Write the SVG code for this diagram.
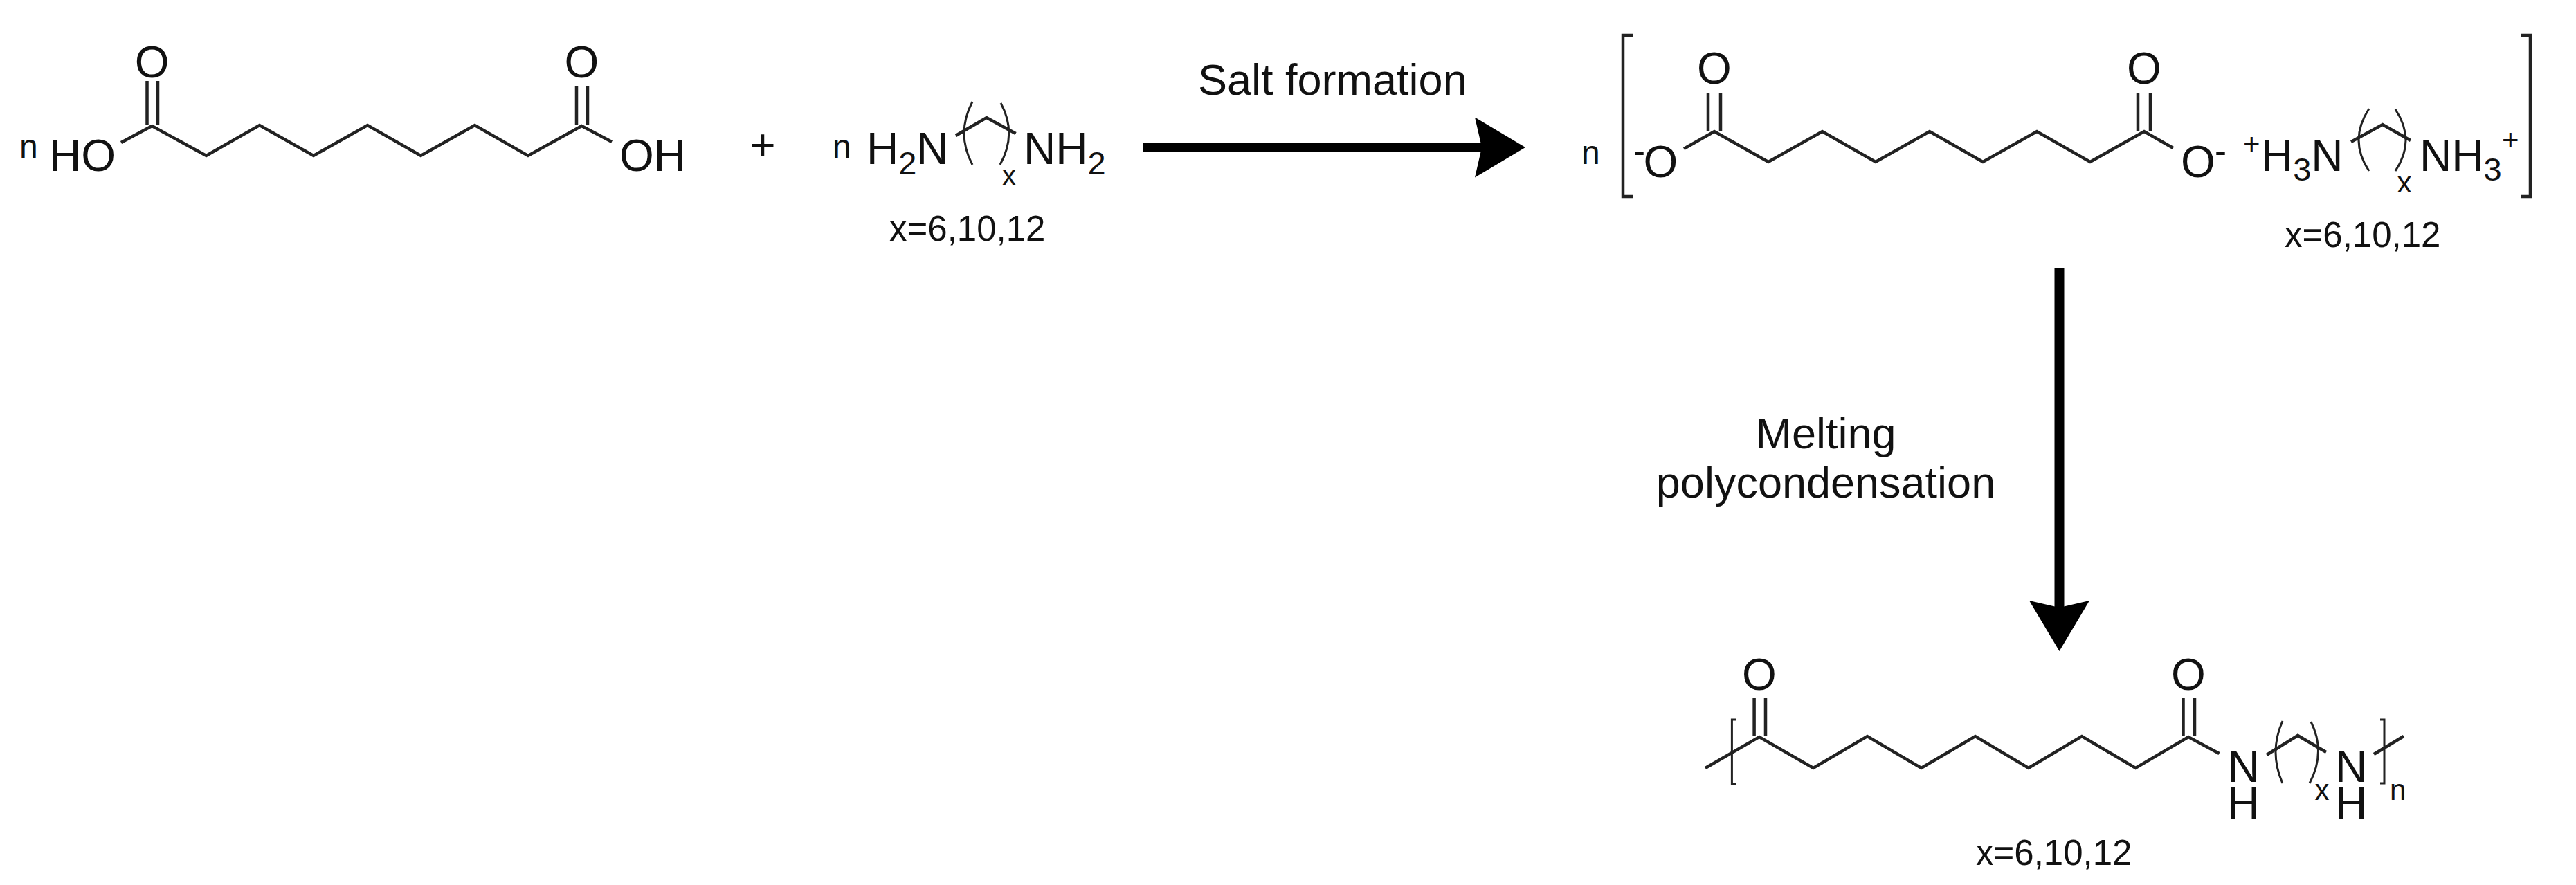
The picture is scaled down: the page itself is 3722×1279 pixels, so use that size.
<svg xmlns="http://www.w3.org/2000/svg" width="3722" height="1279" viewBox="0 0 3722 1279">
<style>
text{font-family:"Liberation Sans",Arial,sans-serif;fill:#111}
.a{font-size:64px}
.l{font-size:63px}
.f{font-size:51px}
.n{font-size:48px}
.x{font-size:42px}
.s{font-size:47px}
.m{text-anchor:middle}
.b{fill:none;stroke:#222;stroke-width:4.5;stroke-linejoin:miter}
.p{fill:none;stroke:#222;stroke-width:3}
.w{stroke:#000;stroke-width:14;fill:none}
</style>
<defs>
<marker id="head" markerUnits="userSpaceOnUse" markerWidth="74" markerHeight="88" viewBox="0 0 74 88" refX="10" refY="43.5" orient="auto"><path d="M0,0L73,43.5L0,87L10,43.5Z" fill="#000"/></marker>
</defs>
<rect width="3722" height="1279" fill="#fff"/>
<g id="connectors">
<line class="w" x1="1651" y1="213" x2="2141" y2="213" marker-end="url(#head)"/>
<line class="w" x1="2975.5" y1="388" x2="2975.5" y2="878" marker-end="url(#head)"/>
</g>
<g id="diacid">
<text class="n" x="28" y="228">n</text>
<text class="a" x="71" y="247">HO</text>
<polyline class="b" points="175,206 219.6,182 298,225 375,181 453,225 531,181 608,225 686,181 763,225 840.4,182 884,205"/>
<path class="b" d="M212.5,180V117M228,180V117M833,180V125M849,180V125"/>
<text class="a m" x="219.6" y="112">O</text>
<text class="a m" x="840.4" y="112">O</text>
<text class="a" x="895" y="247">OH</text>
</g>
<text id="plus" class="a m" x="1102" y="232">+</text>
<g id="diamine">
<text class="n" x="1203" y="228">n</text>
<text class="a" x="1252" y="237">H<tspan class="s" dy="15">2</tspan><tspan dy="-15">N</tspan></text>
<polyline class="b" points="1381,196 1425.5,170 1467.6,193"/>
<path class="p" d="M1405,147Q1381,193 1405,238M1446,149Q1470,193 1445,238"/>
<text class="x m" x="1458" y="268">x</text>
<text class="a" x="1479" y="237">NH<tspan class="s" dy="15">2</tspan></text>
<text class="f" x="1285" y="348">x=6,10,12</text>
</g>
<text id="salt-label" class="l" x="1731" y="137">Salt formation</text>
<g id="salt">
<text class="n" x="2285" y="237">n</text>
<path class="b" d="M2359,51H2345V284H2359M3642,51H3656V284H3642"/>
<text class="f" x="2360" y="236">-</text>
<text class="a m" x="2399.5" y="256">O</text>
<polyline class="b" points="2433,215 2477,190 2555,234 2633,190 2710,234 2788,190 2865,234 2943,190 3020,234 3098,190 3140,214"/>
<path class="b" d="M2468,189V135M2486,189V135M3089,189V135M3107,189V135"/>
<text class="a m" x="2477" y="121">O</text>
<text class="a m" x="3098" y="121">O</text>
<text class="a m" x="3176" y="256">O</text>
<text class="f" x="3200" y="236">-</text>
<text class="x" x="3241" y="223">+</text>
<text class="a" x="3267" y="247">H<tspan class="s" dy="14">3</tspan><tspan dy="-14">N</tspan></text>
<polyline class="b" points="3397,205 3442.6,180 3483,203"/>
<path class="p" d="M3423,157Q3393,203 3423,247M3461,158Q3491,203 3461,247"/>
<text class="x m" x="3474" y="278">x</text>
<text class="a" x="3496" y="247">NH<tspan class="s" dy="14">3</tspan></text>
<text class="x" x="3615" y="217">+</text>
<text class="f" x="3301" y="357">x=6,10,12</text>
</g>
<g id="melt-label">
<text class="l m" x="2638" y="648">Melting</text>
<text class="l m" x="2638" y="719">polycondensation</text>
</g>
<g id="polymer">
<polyline class="b" points="2464,1110 2542,1065 2620,1110 2698,1064 2776,1110 2854,1064 2931,1110 3008,1064 3085.6,1110 3162,1065 3206.5,1089"/>
<path class="b" d="M2534.6,1063V1009M2551,1063V1009M3154.5,1063V1009M3171,1063V1009"/>
<text class="a m" x="2542" y="997">O</text>
<text class="a m" x="3162" y="997">O</text>
<path class="p" d="M2508,1040H2502.4V1133H2508M3439,1040H3445V1132H3439"/>
<text class="a m" x="3241.5" y="1130">N<tspan x="3241.5" dy="53">H</tspan></text>
<polyline class="b" points="3275,1091 3320,1063 3361,1087"/>
<path class="p" d="M3298,1042Q3278,1087 3298,1132M3339,1043Q3361,1087 3337,1132"/>
<text class="x m" x="3355" y="1156">x</text>
<text class="a m" x="3397" y="1130">N<tspan x="3397" dy="53">H</tspan></text>
<polyline class="b" points="3430,1090 3473,1064"/>
<text class="x" x="3453" y="1156">n</text>
<text class="f" x="2855" y="1250">x=6,10,12</text>
</g>
</svg>
